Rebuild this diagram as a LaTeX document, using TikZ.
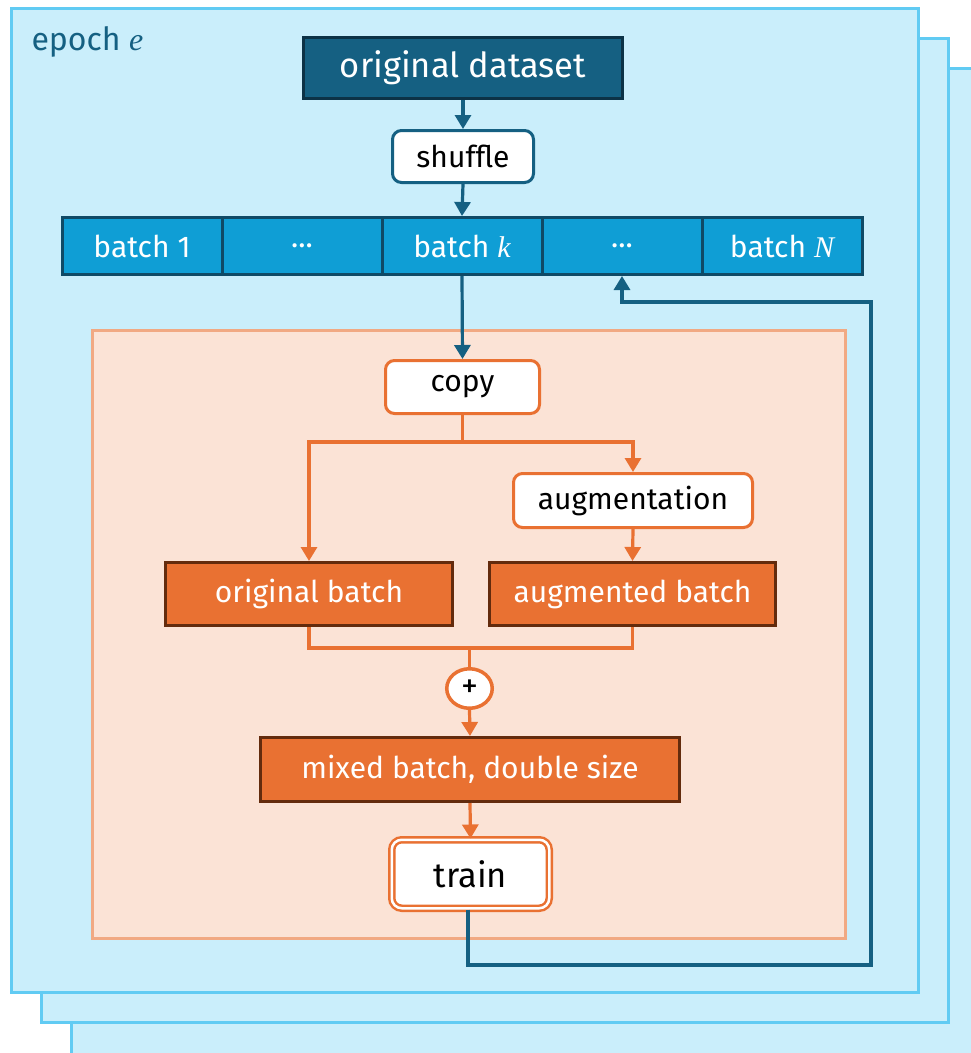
\documentclass[tikz,border=0pt]{standalone}
\usepackage{fontspec}
\setmainfont{Fira Sans}
\newfontfamily\varfont{Liberation Serif}
\newcommand{\mvar}[1]{{\varfont\itshape #1}}
\usetikzlibrary{arrows.meta,shapes.geometric}

\definecolor{frameFill}{HTML}{CAEEFB}
\definecolor{frameLine}{HTML}{61CBF3}
\definecolor{deepBlue}{HTML}{156082}
\definecolor{deepBlueDark}{HTML}{0C3246}
\definecolor{batchBlue}{HTML}{0F9ED5}
\definecolor{batchLine}{HTML}{0F4A66}
\definecolor{accOrange}{HTML}{E97132}
\definecolor{panelFill}{HTML}{FBE3D6}
\definecolor{panelLine}{HTML}{F1A983}
\definecolor{brownLine}{HTML}{632B0D}

\tikzset{
  txt/.style={font=\fontsize{30}{35}\selectfont},
  bigtxt/.style={font=\fontsize{34.5}{40}\selectfont},
  frame/.style={fill=frameFill, draw=frameLine, line width=3pt},
  datasetbox/.style={rectangle, fill=deepBlue, draw=deepBlueDark, line width=3pt,
    text=white, bigtxt, minimum width=319pt, minimum height=61pt, inner sep=0pt},
  bluestep/.style={rectangle, rounded corners=9pt, fill=white, draw=deepBlue,
    line width=3pt, txt, inner sep=0pt},
  batchcell/.style={rectangle, fill=batchBlue, draw=batchLine, line width=3pt,
    text=white, txt, minimum width=160pt, minimum height=57pt, inner sep=0pt},
  orangestep/.style={rectangle, rounded corners=9pt, fill=white, draw=accOrange,
    line width=3pt, txt, inner sep=0pt},
  orangebatch/.style={rectangle, fill=accOrange, draw=brownLine, line width=3pt,
    text=white, txt, minimum height=63pt, inner sep=0pt},
  tip/.style={-{Triangle[length=14pt,width=16pt]}},
  bluearrow/.style={draw=deepBlue, line width=3.2pt, tip},
  orangearrow/.style={draw=accOrange, line width=3.2pt, tip},
  orangeline/.style={draw=accOrange, line width=3.2pt},
}

\begin{document}
\begin{tikzpicture}[x=1pt, y=-1pt]
  \clip (0,0) rectangle (971,1053);
  \useasboundingbox (0,0) rectangle (971,1053);

  % stacked epoch sheets, back to front
  \draw[frame] (71,68) rectangle (1010,1090);
  \draw[frame] (41,38) rectangle (948,1022);
  \draw[frame] (11,8) rectangle (918,992);

  \node[anchor=west, text=deepBlue, font=\fontsize{32}{38}\selectfont] (epoch) at (28,42) {epoch \mvar{e}};

  % per-batch processing panel
  \draw[fill=panelFill, draw=panelLine, line width=3pt] (92,330) rectangle (845,938);

  % dataset, shuffle and the batch row
  \node[datasetbox] (data) at (463,68) {original dataset};
  \node[bluestep, minimum width=141pt, minimum height=52pt] (shuffle) at (463,156.5) {shuffle};

  \node[batchcell] (b1) at (142,246) {batch 1};
  \node[batchcell] (d1) at (302,246) {...};
  \node[batchcell] (bk) at (462,246) {batch \mvar{k}};
  \node[batchcell] (d2) at (622,246) {...};
  \node[batchcell] (bn) at (782,246) {batch \mvar{N}};

  % inner steps
  \node[orangestep, minimum width=154pt, minimum height=53pt] (copy) at (462.5,387) {copy};
  \node[orangestep, minimum width=239pt, minimum height=54pt] (aug) at (633,500.5) {augmentation};
  \node[orangebatch, minimum width=287pt] (obatch) at (309,594) {original batch};
  \node[orangebatch, minimum width=286pt] (abatch) at (632.5,594) {augmented batch};
  \node[ellipse, fill=white, draw=accOrange, line width=3.5pt, minimum width=45.5pt,
        minimum height=39.5pt, inner sep=0pt, font=\fontsize{34}{38}\selectfont] (plus) at (469.5,688.5) {+};
  \node[orangebatch, minimum width=419pt, minimum height=64pt] (mixed) at (470,769.5) {mixed batch, double size};
  \node[rectangle, rounded corners=10pt, fill=white, draw=accOrange, line width=2.5pt,
        double=white, double distance=2.5pt, minimum width=157.5pt, minimum height=68.5pt,
        inner sep=0pt, bigtxt] (train) at (470.5,874) {train};

  % helper points for the branching and the loop back
  \coordinate (split) at (462.5,442);
  \coordinate (merge) at (469.5,648);
  \coordinate (loopA) at (871,965);
  \coordinate (loopB) at (871,302);

  % blue connectors
  \draw[bluearrow] (data.south) -- (shuffle.north);
  \draw[bluearrow] (shuffle.south) -- (bk.north);
  \draw[bluearrow] (bk.south) -- (copy.north);
  \draw[bluearrow] ([xshift=-2.5pt]train.south) |- (loopA) -- (loopB) -| (d2.south);

  % orange connectors
  \draw[orangeline] (copy.south) -- (split);
  \draw[orangearrow] (split) -| (obatch.north);
  \draw[orangearrow] (split) -| (aug.north);
  \draw[orangearrow] (aug.south) -- (abatch.north);
  \draw[orangeline] (obatch.south) |- (merge);
  \draw[orangeline] (abatch.south) |- (merge);
  \draw[orangeline] (merge) -- (plus.north);
  \draw[orangearrow] (plus.south) -- (mixed.north);
  \draw[orangearrow] (mixed.south) -- (train.north);
\end{tikzpicture}
\end{document}
